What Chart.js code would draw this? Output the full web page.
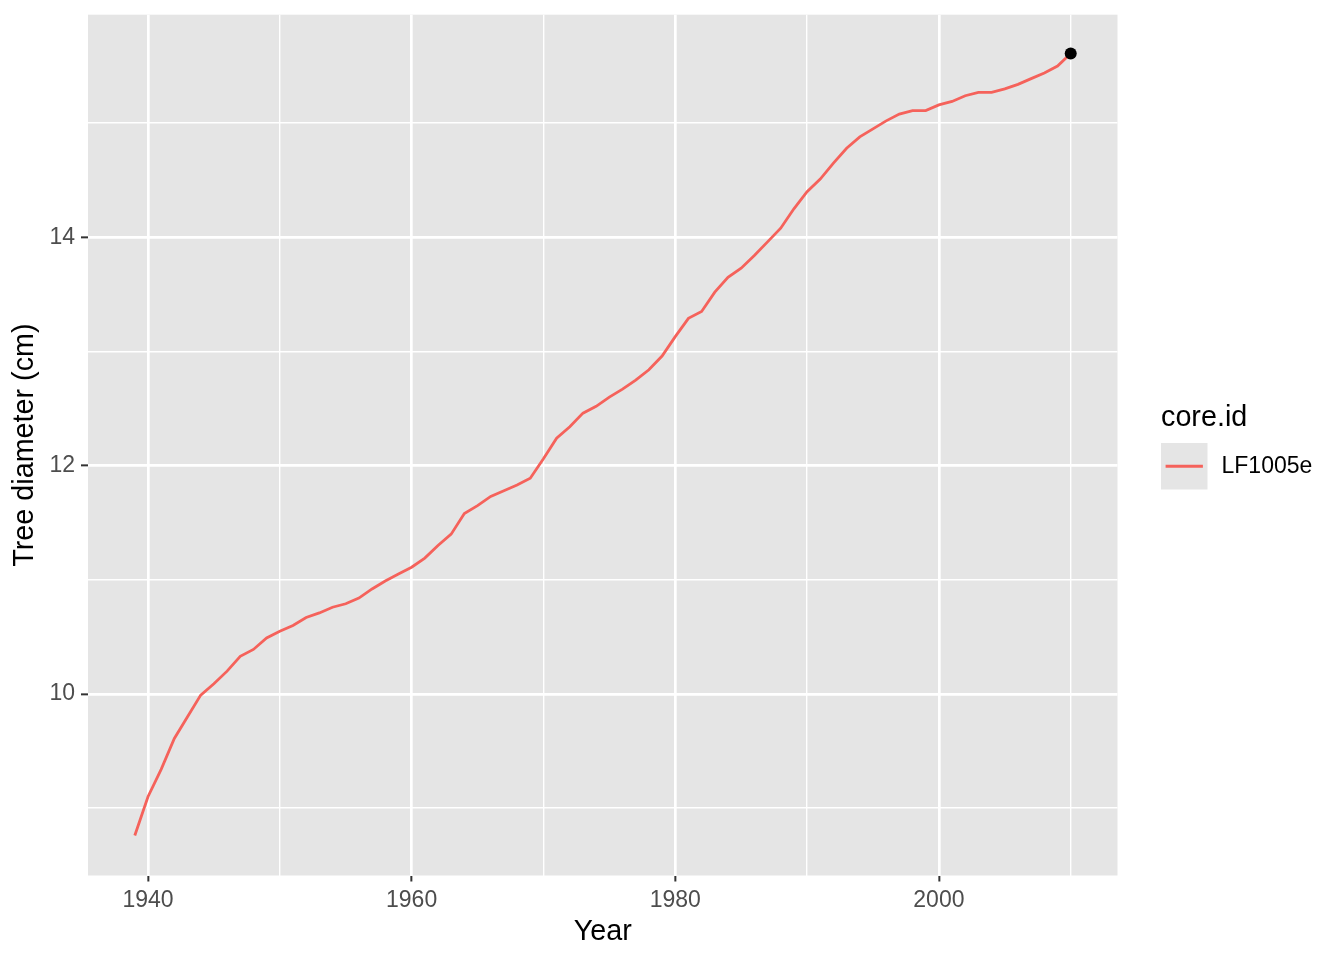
<!DOCTYPE html>
<html>
<head>
<meta charset="utf-8">
<title>Tree diameter</title>
<script src="https://cdn.jsdelivr.net/npm/chart.js@4.4.1/dist/chart.umd.min.js"></script>
<style>
  html, body { margin: 0; padding: 0; background: #ffffff; }
  #wrap { width: 1344px; height: 960px; }
</style>
</head>
<body>
<div id="wrap"><canvas id="treeChart" width="1344" height="960"></canvas></div>
<script>
// values
const years = [
  1939, 1940, 1941, 1942, 1943, 1944, 1945, 1946, 1947, 1948,
  1949, 1950, 1951, 1952, 1953, 1954, 1955, 1956, 1957, 1958,
  1959, 1960, 1961, 1962, 1963, 1964, 1965, 1966, 1967, 1968,
  1969, 1970, 1971, 1972, 1973, 1974, 1975, 1976, 1977, 1978,
  1979, 1980, 1981, 1982, 1983, 1984, 1985, 1986, 1987, 1988,
  1989, 1990, 1991, 1992, 1993, 1994, 1995, 1996, 1997, 1998,
  1999, 2000, 2001, 2002, 2003, 2004, 2005, 2006, 2007, 2008,
  2009, 2010
];
const diameters = [
  8.76, 9.10, 9.34, 9.61, 9.80, 9.99, 10.09, 10.20, 10.33, 10.39,
  10.49, 10.55, 10.60, 10.67, 10.71, 10.76, 10.79, 10.84, 10.92, 10.99,
  11.05, 11.11, 11.19, 11.30, 11.40, 11.58, 11.65, 11.73, 11.78, 11.83,
  11.89, 12.06, 12.24, 12.34, 12.46, 12.52, 12.60, 12.67, 12.75, 12.84,
  12.96, 13.13, 13.29, 13.35, 13.52, 13.65, 13.73, 13.84, 13.96, 14.08,
  14.25, 14.40, 14.51, 14.65, 14.78, 14.88, 14.95, 15.02, 15.08, 15.11,
  15.11, 15.16, 15.19, 15.24, 15.27, 15.27, 15.30, 15.34, 15.39, 15.44,
  15.50, 15.61
];
const markYears = [2010];
const markDiameters = [15.61];

const xMajorTicks = [1940, 1960, 1980, 2000];
const xMinorTicks = [1950, 1970, 1990, 2010];
const yMajorTicks = [10, 12, 14];
const yMinorTicks = [9, 11, 13, 15];

const seriesName = 'LF1005e';
const legendTitle = 'core.id';
const xTitle = 'Year';
const yTitle = 'Tree diameter (cm)';

const FONT = '"Liberation Sans", Arial, Helvetica, sans-serif';
const PANEL_BG = '#E5E5E5';
const LINE_COLOUR = '#F5625B';

Chart.defaults.font.family = FONT;

// grey panel behind the grid, like ggplot
const panelBackground = {
  id: 'panelBackground',
  beforeDraw(chart) {
    const { ctx, chartArea: a } = chart;
    ctx.save();
    ctx.fillStyle = PANEL_BG;
    ctx.fillRect(a.left, a.top, a.right - a.left, a.bottom - a.top);
    ctx.restore();
  }
};

// legend on the right: title, grey key with a line, label
const ggLegend = {
  id: 'ggLegend',
  afterDraw(chart) {
    const { ctx, chartArea: a } = chart;
    const ds = chart.data.datasets.find(d => d.label === seriesName);
    const left = a.right + 43.5;
    const keyTop = 443;
    const keySize = 46.5;
    ctx.save();
    ctx.fillStyle = '#000000';
    ctx.font = '28.75px ' + FONT;
    ctx.textAlign = 'left';
    ctx.textBaseline = 'alphabetic';
    ctx.fillText(legendTitle, left, 426);

    ctx.fillStyle = PANEL_BG;
    ctx.fillRect(left, keyTop, keySize, keySize);
    ctx.strokeStyle = ds.borderColor;
    ctx.lineWidth = ds.borderWidth;
    ctx.beginPath();
    ctx.moveTo(left + 4.6, keyTop + keySize / 2);
    ctx.lineTo(left + keySize - 4.6, keyTop + keySize / 2);
    ctx.stroke();

    ctx.fillStyle = '#000000';
    ctx.font = '23px ' + FONT;
    ctx.textBaseline = 'middle';
    ctx.fillText(ds.label, left + 60.5, keyTop + keySize / 2);
    ctx.restore();
  }
};

function isMajor(list, ctx) {
  return ctx.tick && list.includes(ctx.tick.value);
}

const ctx = document.getElementById('treeChart').getContext('2d');

new Chart(ctx, {
  type: 'line',
  data: {
    datasets: [
      {
        label: 'last',
        data: markYears.map((y, i) => ({ x: y, y: markDiameters[i] })),
        showLine: false,
        pointRadius: 6,
        pointBackgroundColor: '#000000',
        pointBorderWidth: 0,
        order: 0
      },
      {
        label: seriesName,
        data: years.map((y, i) => ({ x: y, y: diameters[i] })),
        borderColor: LINE_COLOUR,
        borderWidth: 2.8,
        pointRadius: 0,
        tension: 0,
        fill: false,
        order: 1
      }
    ]
  },
  options: {
    responsive: false,
    animation: false,
    devicePixelRatio: 1,
    layout: { padding: { top: 14.7, right: 226.5, bottom: 0, left: 0 } },
    plugins: {
      legend: { display: false },
      tooltip: { enabled: false }
    },
    scales: {
      x: {
        type: 'linear',
        min: 1935.45,
        max: 2013.55,
        afterBuildTicks: s => {
          s.ticks = xMajorTicks.concat(xMinorTicks).sort((a, b) => a - b).map(v => ({ value: v }));
        },
        afterFit: s => {
          s.height = 84.5;
          s.paddingLeft = 0;
          s.paddingRight = 0;
        },
        border: { display: false },
        grid: {
          color: '#FFFFFF',
          lineWidth: c => isMajor(xMajorTicks, c) ? 2.7 : 1.4,
          drawTicks: true,
          tickLength: 6,
          tickWidth: 2,
          tickColor: c => isMajor(xMajorTicks, c) ? '#333333' : 'rgba(0,0,0,0)'
        },
        ticks: {
          autoSkip: false,
          maxRotation: 0,
          padding: 5,
          color: '#4D4D4D',
          font: { size: 23 },
          callback: v => xMajorTicks.includes(v) ? String(v) : ''
        },
        title: {
          display: true,
          text: xTitle,
          color: '#000000',
          font: { size: 28.75 },
          padding: { top: 0, bottom: 11 }
        }
      },
      y: {
        type: 'linear',
        min: 8.41,
        max: 15.95,
        afterBuildTicks: s => {
          s.ticks = yMajorTicks.concat(yMinorTicks).sort((a, b) => a - b).map(v => ({ value: v }));
        },
        afterFit: s => {
          s.width = 88;
          s.paddingTop = 0;
          s.paddingBottom = 0;
        },
        border: { display: false },
        grid: {
          color: '#FFFFFF',
          lineWidth: c => isMajor(yMajorTicks, c) ? 2.7 : 1.4,
          drawTicks: true,
          tickLength: 7,
          tickWidth: 2,
          tickColor: c => isMajor(yMajorTicks, c) ? '#333333' : 'rgba(0,0,0,0)'
        },
        ticks: {
          autoSkip: false,
          padding: 6,
          color: '#4D4D4D',
          font: { size: 23 },
          callback: v => yMajorTicks.includes(v) ? String(v) : ''
        },
        title: {
          display: true,
          text: yTitle,
          color: '#000000',
          font: { size: 28.75 },
          padding: { top: 7.75, bottom: 0 }
        }
      }
    }
  },
  plugins: [panelBackground, ggLegend]
});
</script>
</body>
</html>
